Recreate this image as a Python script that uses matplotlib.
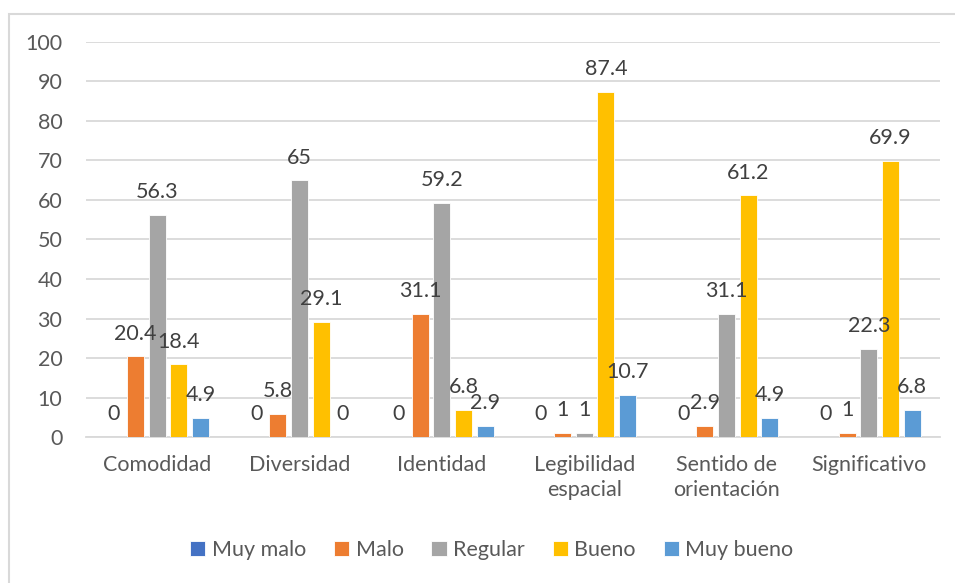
import numpy as np
import matplotlib.pyplot as plt
from matplotlib.patches import Rectangle

# Data
categories = ['Comodidad', 'Diversidad', 'Identidad', 'Legibilidad\nespacial',
              'Sentido de\norientación', 'Significativo']
series_names = ['Muy malo', 'Malo', 'Regular', 'Bueno', 'Muy bueno']
muy_malo = [0, 0, 0, 0, 0, 0]
malo = [20.4, 5.8, 31.1, 1, 2.9, 1]
regular = [56.3, 65, 59.2, 1, 31.1, 22.3]
bueno = [18.4, 29.1, 6.8, 87.4, 61.2, 69.9]
muy_bueno = [4.9, 0, 2.9, 10.7, 4.9, 6.8]

colors = ['#4472C4', '#ED7D31', '#A5A5A5', '#FFC000', '#5B9BD5']
text_color = '#595959'
grid_color = '#D9D9D9'

plt.rcParams['font.family'] = ['Lato', 'DejaVu Sans']
fs = 15.5

fig = plt.figure(figsize=(9.55, 5.83), dpi=100)
ax = fig.add_axes([0.0901, 0.2504, 0.8942, 0.6776])

# Outer chart border (top and left visible)
fig.patches.append(Rectangle((9 / 955, -0.1), 1.2, 1 - 14 / 583 + 0.1,
                             transform=fig.transFigure, fill=False,
                             edgecolor=grid_color, linewidth=1.5))

x = np.arange(len(categories))
bar_width = 0.12
pitch = 0.152
all_series = [muy_malo, malo, regular, bueno, muy_bueno]

for i, (name, vals) in enumerate(zip(series_names, all_series)):
    pos = x + (i - 2) * pitch
    ax.bar(pos, vals, width=bar_width, color=colors[i], label=name,
           edgecolor='white', linewidth=0.6, zorder=3)
    for px, v in zip(pos, vals):
        ax.annotate(f'{v:g}', (px, v), xytext=(0, 12), textcoords='offset points',
                    ha='center', va='baseline', fontsize=fs, color='#404040',
                    zorder=4)

ax.set_xlim(-0.5, len(categories) - 0.5)
ax.set_ylim(0, 100)
ax.set_yticks(np.arange(0, 101, 10))
ax.set_xticks(x)
ax.set_xticklabels(categories, fontsize=fs, color=text_color, linespacing=1.3)
ax.tick_params(axis='y', labelsize=fs, labelcolor=text_color, length=0, pad=17)
ax.tick_params(axis='x', length=0, pad=13)
ax.yaxis.grid(True, color=grid_color, linewidth=1.3, zorder=0)
ax.set_axisbelow(True)
for s in ['top', 'right', 'left']:
    ax.spines[s].set_visible(False)
ax.spines['bottom'].set_color(grid_color)
ax.spines['bottom'].set_linewidth(1.3)

leg = fig.legend(loc='center', bbox_to_anchor=(0.515, 0.057), ncol=5,
                 frameon=False, fontsize=fs, handlelength=0.7, handleheight=0.7,
                 handletextpad=0.3, columnspacing=1.3)
for t in leg.get_texts():
    t.set_color(text_color)

fig.savefig('out.png', dpi=100)
